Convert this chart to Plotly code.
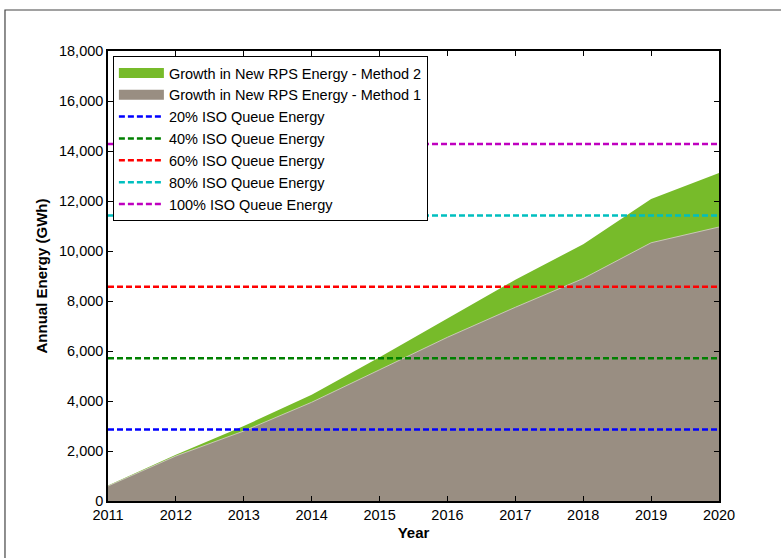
import plotly.graph_objects as go

years = [2011, 2012, 2013, 2014, 2015, 2016, 2017, 2018, 2019, 2020]
method1 = [600, 1800, 2800, 3950, 5250, 6550, 7750, 8900, 10330, 10960]
method2 = [620, 1850, 3000, 4250, 5750, 7300, 8850, 10270, 12080, 13120]

queue_labels = ["20% ISO Queue Energy", "40% ISO Queue Energy", "60% ISO Queue Energy",
                "80% ISO Queue Energy", "100% ISO Queue Energy"]
queue_values = [2856, 5712, 8568, 11424, 14280]
queue_colors = ["#0000FF", "#008000", "#FF0000", "#00BFBF", "#BF00BF"]

GREEN = "#77BB2A"
GRAY = "#998E82"
FONT = "Liberation Sans, Arial"

fig = go.Figure()
fig.add_trace(go.Scatter(x=years, y=method2, mode="lines", fill="tozeroy",
                         line=dict(width=0, color=GREEN), fillcolor=GREEN,
                         name="Growth in New RPS Energy - Method 2", showlegend=False))
fig.add_trace(go.Scatter(x=years, y=method1, mode="lines", fill="tozeroy",
                         line=dict(width=0.8, color="#D8D2CC"), fillcolor=GRAY,
                         name="Growth in New RPS Energy - Method 1", showlegend=False))
# legend swatches for the two areas
fig.add_trace(go.Scatter(x=[None], y=[None], mode="lines", line=dict(width=16, color=GREEN),
                         name="Growth in New RPS Energy - Method 2"))
fig.add_trace(go.Scatter(x=[None], y=[None], mode="lines", line=dict(width=16, color=GRAY),
                         name="Growth in New RPS Energy - Method 1"))
for lab, val, col in zip(queue_labels, queue_values, queue_colors):
    fig.add_trace(go.Scatter(x=[years[0], years[-1]], y=[val, val], mode="lines",
                             line=dict(color=col, width=2.5, dash="6px,3px"), name=lab))

axis_common = dict(showline=True, linecolor="black", linewidth=1.5, mirror="ticks",
                   ticks="inside", ticklen=5, tickcolor="black", showgrid=False,
                   zeroline=False, tickfont=dict(family=FONT, size=14.5, color="black"))
fig.update_xaxes(range=[2011, 2020], dtick=1, title=dict(text="<b>Year</b>", standoff=5,
                 font=dict(family=FONT, size=15, color="black")), **axis_common)
fig.update_yaxes(range=[0, 18000], dtick=2000, tickformat=",", title=dict(text="<b>Annual Energy (GWh)</b>", standoff=8,
                 font=dict(family=FONT, size=15, color="black")), **axis_common)

fig.update_layout(
    width=781, height=558,
    margin=dict(l=108, r=62, t=51, b=57),
    paper_bgcolor="white", plot_bgcolor="white",
    font=dict(family=FONT, size=15, color="black"),
    legend=dict(x=0.008, y=0.989, xanchor="left", yanchor="top", bgcolor="white",
                bordercolor="black", borderwidth=1, tracegroupgap=0, itemwidth=45,
                font=dict(family=FONT, size=14.5, color="black")),
    shapes=[dict(type="rect", xref="paper", yref="paper", x0=-0.1686, x1=1.11,
                 y0=-0.14, y1=1.0911, line=dict(color="#444", width=1.2), layer="below")],
)
fig.write_html("out.html", config={"displayModeBar": False},
               post_script="document.body.style.margin='0';")
